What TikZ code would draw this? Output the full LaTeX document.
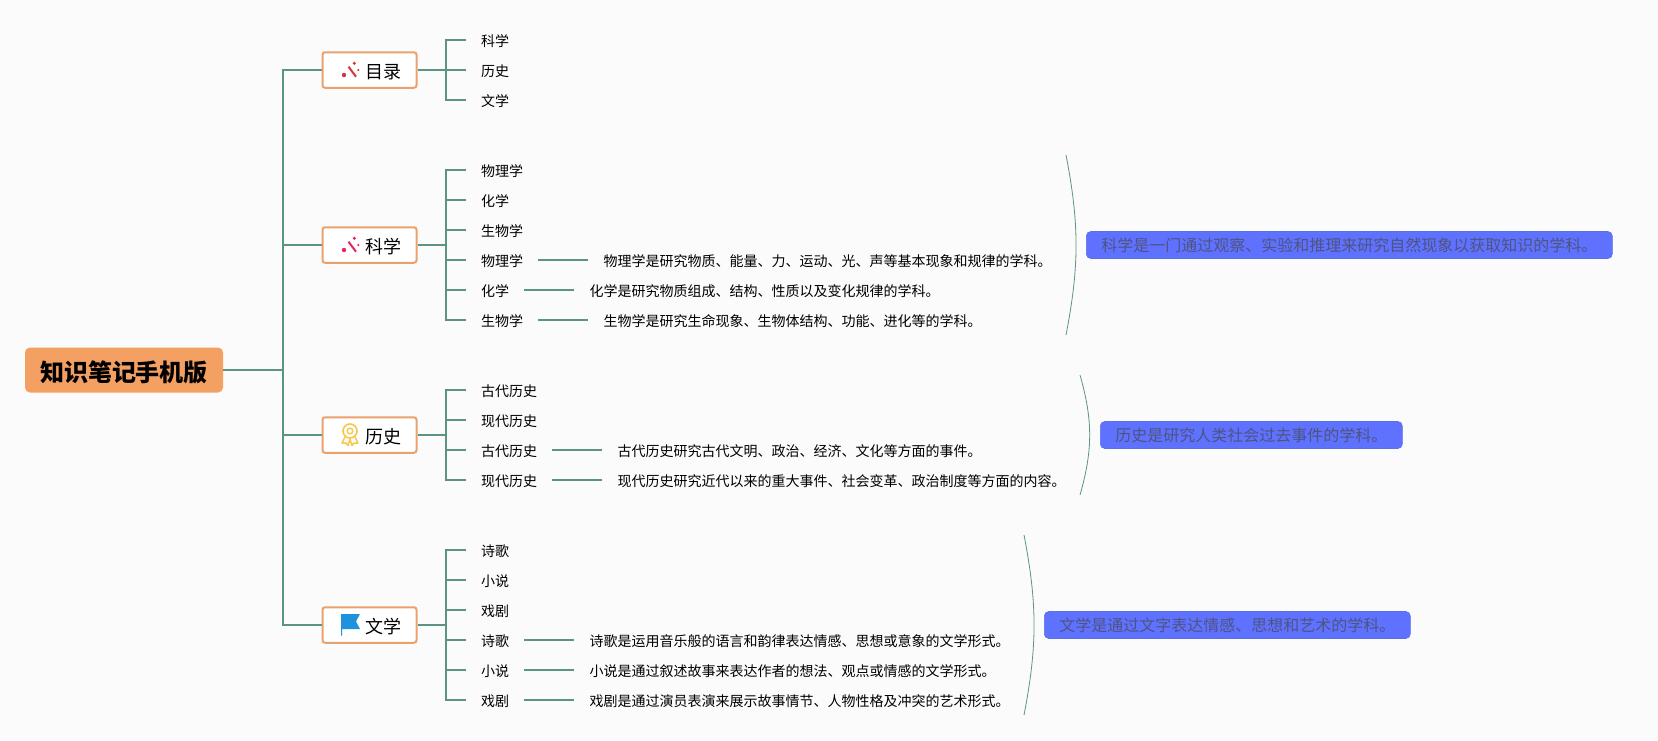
\documentclass[tikz,border=0pt]{standalone}
\usepackage{fontspec}
\setmainfont{Noto Sans CJK SC}
\usetikzlibrary{positioning}
\definecolor{pagebg}{RGB}{251,251,251}
\definecolor{rootorange}{RGB}{244,160,98}
\definecolor{edgeorange}{RGB}{233,162,110}
\definecolor{linkgreen}{RGB}{91,148,133}
\definecolor{noteblue}{RGB}{95,114,255}
\definecolor{noteedge}{RGB}{92,112,230}
\definecolor{notetext}{RGB}{78,84,128}
\definecolor{wandred}{RGB}{214,54,58}
\definecolor{wandpink}{RGB}{230,36,100}
\definecolor{medalyellow}{RGB}{246,200,70}
\definecolor{flagblue}{RGB}{30,146,220}
\tikzset{
  rootbox/.style={fill=rootorange, rounded corners=5pt, minimum width=198pt, minimum height=45pt, inner sep=0pt, font=\fontsize{24}{28}\selectfont\bfseries, text height=24pt, text depth=2pt},
  branchbox/.style={draw=edgeorange, line width=2pt, fill=white, rounded corners=2.5pt, minimum width=94pt, minimum height=35.5pt, inner sep=0pt, font=\fontsize{18}{22}\selectfont, text height=19.8pt, text depth=2.2pt},
  leaf/.style={anchor=west, inner xsep=15pt, inner ysep=0pt, font=\fontsize{14}{17}\selectfont, text height=15.8pt, text depth=2.2pt},
  notebox/.style={anchor=west, draw=noteedge, line width=0.6pt, fill=noteblue, text=notetext, rounded corners=4.5pt, inner xsep=15pt, inner ysep=0pt, minimum height=27pt, font=\fontsize{16}{19}\selectfont, text height=14pt, text depth=2pt},
  link/.style={draw=linkgreen, line width=1.5pt},
  arcline/.style={draw=linkgreen, line width=0.8pt}
}
\newcommand{\wandicon}[3]{%
  \draw[#3, line width=2pt] (#1+3.5,#2-3.3) -- (#1+11,#2+6.7);
  \fill[#3] (#1-1,#2+5) circle (2.2pt);
  \fill[#3] (#1+9.3,#2-6.7) circle (1.7pt);
  \fill[#3] (#1+13.3,#2) circle (1.2pt);
}
\begin{document}
\begin{tikzpicture}[x=1pt, y=-1pt]
  \path[fill=pagebg, use as bounding box] (0,0) rectangle (1658,740);

  \node[rootbox] (root) at (124,370) {知识笔记手机版};
  \coordinate (trunk) at (283,370);

  \node[branchbox] (mulu) at (369.5,70) {\hspace*{28pt}目录};
  \node[branchbox] (kexue) at (369.5,245) {\hspace*{28pt}科学};
  \node[branchbox] (lishi) at (369.5,435) {\hspace*{28pt}历史};
  \node[branchbox] (wenxue) at (369.5,625) {\hspace*{28pt}文学};

  \draw[link] (root) -- (trunk);
  \draw[link] (trunk) |- (mulu);
  \draw[link] (trunk) |- (kexue);
  \draw[link] (trunk) |- (lishi);
  \draw[link] (trunk) |- (wenxue);

  % icons
  \wandicon{345}{70}{wandred}
  \wandicon{345}{245}{wandpink}
  \draw[medalyellow, line width=1.6pt] (350,431) circle (7pt);
  \draw[medalyellow, line width=1.4pt] (350,431) circle (2.8pt);
  \draw[medalyellow, line width=1.5pt, line join=round] (345,437) -- (342,443) -- (346,443) -- (348,445.5) -- (350,439.5) -- (352,445.5) -- (354,443) -- (358,443) -- (355,437);
  \fill[flagblue] (341,614) -- (360,614) -- (356,621.5) -- (360,629) -- (342,629) -- (342,635.5) -- (341,635.5) -- cycle;

  % mulu
  \coordinate (mljoint) at (446,70);
  \node[leaf] (mla) at (466,40) {科学};
  \node[leaf] (mlb) at (466,70) {历史};
  \node[leaf] (mlc) at (466,100) {文学};
  \draw[link] (mulu) -- (mljoint);
  \draw[link] (mljoint) |- (mla.west);
  \draw[link] (mljoint) -- (mlb.west);
  \draw[link] (mljoint) |- (mlc.west);

  % kexue
  \coordinate (kxjoint) at (446,245);
  \node[leaf] (kxa) at (466,170) {物理学};
  \node[leaf] (kxb) at (466,200) {化学};
  \node[leaf] (kxc) at (466,230) {生物学};
  \node[leaf] (kxd) at (466,260) {物理学};
  \node[leaf] (kxe) at (466,290) {化学};
  \node[leaf] (kxf) at (466,320) {生物学};
  \node[leaf, right=50pt of kxd] (kxdinfo) {物理学是研究物质、能量、力、运动、光、声等基本现象和规律的学科。};
  \node[leaf, right=50pt of kxe] (kxeinfo) {化学是研究物质组成、结构、性质以及变化规律的学科。};
  \node[leaf, right=50pt of kxf] (kxfinfo) {生物学是研究生命现象、生物体结构、功能、进化等的学科。};
  \draw[link] (kexue) -- (kxjoint);
  \draw[link] (kxjoint) |- (kxa.west);
  \draw[link] (kxjoint) |- (kxb.west);
  \draw[link] (kxjoint) |- (kxc.west);
  \draw[link] (kxjoint) |- (kxd.west);
  \draw[link] (kxjoint) |- (kxe.west);
  \draw[link] (kxjoint) |- (kxf.west);
  \draw[link] (kxd) -- (kxdinfo);
  \draw[link] (kxe) -- (kxeinfo);
  \draw[link] (kxf) -- (kxfinfo);
  \coordinate (kxtop) at (1066,155);
  \coordinate (kxbot) at (1066,335);
  \draw[arcline] (kxtop) to[bend left=11] (kxbot);
  \node[notebox] (kxnote) at (1086,245) {科学是一门通过观察、实验和推理来研究自然现象以获取知识的学科。};

  % lishi
  \coordinate (lsjoint) at (446,435);
  \node[leaf] (lsa) at (466,390) {古代历史};
  \node[leaf] (lsb) at (466,420) {现代历史};
  \node[leaf] (lsc) at (466,450) {古代历史};
  \node[leaf] (lsd) at (466,480) {现代历史};
  \node[leaf, right=50pt of lsc] (lscinfo) {古代历史研究古代文明、政治、经济、文化等方面的事件。};
  \node[leaf, right=50pt of lsd] (lsdinfo) {现代历史研究近代以来的重大事件、社会变革、政治制度等方面的内容。};
  \draw[link] (lishi) -- (lsjoint);
  \draw[link] (lsjoint) |- (lsa.west);
  \draw[link] (lsjoint) |- (lsb.west);
  \draw[link] (lsjoint) |- (lsc.west);
  \draw[link] (lsjoint) |- (lsd.west);
  \draw[link] (lsc) -- (lscinfo);
  \draw[link] (lsd) -- (lsdinfo);
  \coordinate (lstop) at (1080,375);
  \coordinate (lsbot) at (1080,495);
  \draw[arcline] (lstop) to[bend left=16] (lsbot);
  \node[notebox] (lsnote) at (1100,435) {历史是研究人类社会过去事件的学科。};

  % wenxue
  \coordinate (wxjoint) at (446,625);
  \node[leaf] (wxa) at (466,550) {诗歌};
  \node[leaf] (wxb) at (466,580) {小说};
  \node[leaf] (wxc) at (466,610) {戏剧};
  \node[leaf] (wxd) at (466,640) {诗歌};
  \node[leaf] (wxe) at (466,670) {小说};
  \node[leaf] (wxf) at (466,700) {戏剧};
  \node[leaf, right=50pt of wxd] (wxdinfo) {诗歌是运用音乐般的语言和韵律表达情感、思想或意象的文学形式。};
  \node[leaf, right=50pt of wxe] (wxeinfo) {小说是通过叙述故事来表达作者的想法、观点或情感的文学形式。};
  \node[leaf, right=50pt of wxf] (wxfinfo) {戏剧是通过演员表演来展示故事情节、人物性格及冲突的艺术形式。};
  \draw[link] (wenxue) -- (wxjoint);
  \draw[link] (wxjoint) |- (wxa.west);
  \draw[link] (wxjoint) |- (wxb.west);
  \draw[link] (wxjoint) |- (wxc.west);
  \draw[link] (wxjoint) |- (wxd.west);
  \draw[link] (wxjoint) |- (wxe.west);
  \draw[link] (wxjoint) |- (wxf.west);
  \draw[link] (wxd) -- (wxdinfo);
  \draw[link] (wxe) -- (wxeinfo);
  \draw[link] (wxf) -- (wxfinfo);
  \coordinate (wxtop) at (1024,535);
  \coordinate (wxbot) at (1024,715);
  \draw[arcline] (wxtop) to[bend left=11] (wxbot);
  \node[notebox] (wxnote) at (1044,625) {文学是通过文字表达情感、思想和艺术的学科。};
\end{tikzpicture}
\end{document}
